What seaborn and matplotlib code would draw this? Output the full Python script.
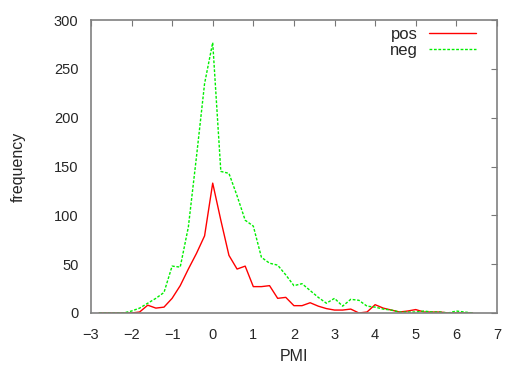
import matplotlib
matplotlib.use("Agg")
import matplotlib.pyplot as plt
import seaborn as sns
import pandas as pd

# PMI bin centres and counts
pmi = [-2.8, -2.6, -2.4, -2.2, -2.0, -1.8, -1.6, -1.4, -1.2, -1.0,
       -0.8, -0.6, -0.4, -0.2, 0.0, 0.2, 0.4, 0.6, 0.8, 1.0,
       1.2, 1.4, 1.6, 1.8, 2.0, 2.2, 2.4, 2.6, 2.8, 3.0,
       3.2, 3.4, 3.6, 3.8, 4.0, 4.2, 4.4, 4.6, 4.8, 5.0,
       5.2, 5.4, 5.6, 5.8, 6.0, 6.2, 6.4]
pos = [0, 0, 0, 0, 0, 1, 8, 5, 6, 15,
       28, 45, 61, 79, 133, 95, 59, 45, 48, 27,
       27, 28, 15, 16, 7.5, 7.5, 10.5, 7, 4.5, 3,
       3, 4, 0, 1, 8.5, 5, 3, 1, 2, 3.5,
       1, 1, 1, 0, 0, 0, 0]
neg = [0, 0, 0, 0, 2, 5, 10, 15, 21, 48,
       47, 88, 160, 235, 277, 145, 143, 120, 95, 89,
       57, 51, 49, 39, 28, 30, 23, 16, 10, 15,
       7, 14, 13, 7, 6, 4, 3, 1, 1, 1,
       2, 1, 1, 0, 2, 1, 0]

df = pd.DataFrame({"PMI": pmi, "pos": pos, "neg": neg})

sns.set_style("white")
plt.rcParams["font.family"] = ["Liberation Sans", "DejaVu Sans"]

fig = plt.figure(figsize=(5.05, 3.65), dpi=100)
ax = fig.add_axes([0.180, 0.1425, 0.804, 0.8025])

sns.lineplot(data=df, x="PMI", y="pos", ax=ax, color="#ff0000", lw=1.0, label="pos")
sns.lineplot(data=df, x="PMI", y="neg", ax=ax, color="#00ee00", lw=1.0,
             label="neg", linestyle=(0, (2, 1.2)))

ax.set_xlim(-3, 7)
ax.set_ylim(0, 300)
ax.set_xticks(range(-3, 8))
ax.set_yticks(range(0, 301, 50))
ax.set_xlabel("PMI", fontsize=11.5, labelpad=5)
ax.set_ylabel("frequency", fontsize=11.5, labelpad=20)
ax.tick_params(direction="in", length=4, width=0.8, color="#777777",
               top=True, right=True, labelsize=10.5)
ax.tick_params(axis="y", pad=9)
ax.tick_params(axis="x", pad=11)
for s in ax.spines.values():
    s.set_color("#808080")
    s.set_linewidth(1.2)

ax.legend(loc="upper right", bbox_to_anchor=(0.948, 0.976), frameon=False,
          markerfirst=False, fontsize=12, handlelength=2.8, handletextpad=0.7,
          labelspacing=0.05, borderpad=0, borderaxespad=0)

fig.savefig("out.png", dpi=100)
